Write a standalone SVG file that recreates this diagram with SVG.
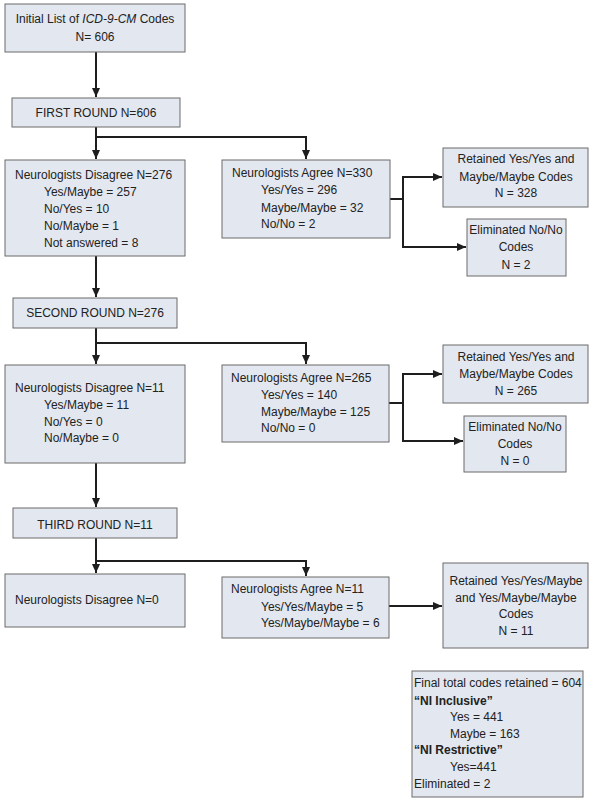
<svg xmlns="http://www.w3.org/2000/svg" width="594" height="800" viewBox="0 0 594 800">
<style>
.box{fill:#e3e7ef;stroke:#6b6b6b;stroke-width:1}
text{font-family:"Liberation Sans",Arial,sans-serif;font-size:12px;fill:#222}
.c{text-anchor:middle}
.b{font-weight:bold}
.con{fill:none;stroke:#1e1e1e;stroke-width:2}
</style>
<defs>
<marker id="ah" markerUnits="userSpaceOnUse" markerWidth="10" markerHeight="9" refX="9" refY="4" orient="auto">
<path d="M0,0 L9,4 L0,8 z" fill="#1e1e1e"/>
</marker>
</defs>
<rect width="594" height="800" fill="#fff"/>
<g id="connectors">
<path class="con" d="M96,52 V97" marker-end="url(#ah)"/>
<path class="con" d="M96,127 V159" marker-end="url(#ah)"/>
<path class="con" d="M96,137 H306 V159" marker-end="url(#ah)"/>
<path class="con" d="M390,199 H403"/>
<path class="con" d="M403,176 V248"/>
<path class="con" d="M402,177 H442" marker-end="url(#ah)"/>
<path class="con" d="M402,247 H466" marker-end="url(#ah)"/>
<path class="con" d="M96,256 V297" marker-end="url(#ah)"/>
<path class="con" d="M96,328 V364" marker-end="url(#ah)"/>
<path class="con" d="M96,343 H306 V364" marker-end="url(#ah)"/>
<path class="con" d="M389,403 H403"/>
<path class="con" d="M403,373 V442"/>
<path class="con" d="M402,374 H442" marker-end="url(#ah)"/>
<path class="con" d="M402,441 H463" marker-end="url(#ah)"/>
<path class="con" d="M96,463 V507" marker-end="url(#ah)"/>
<path class="con" d="M96,538 V573" marker-end="url(#ah)"/>
<path class="con" d="M96,561 H306 V576" marker-end="url(#ah)"/>
<path class="con" d="M389,606 H442" marker-end="url(#ah)"/>
</g>
<g id="initial">
<rect class="box" x="5" y="4" width="180" height="48"/>
<text class="c" x="95" y="23">Initial List of <tspan font-style="italic">ICD-9-CM</tspan> Codes</text>
<text class="c" x="95" y="41">N= 606</text>
</g>
<g id="first-round">
<rect class="box" x="12" y="98" width="168" height="29"/>
<text class="c" x="96" y="117">FIRST ROUND N=606</text>
</g>
<g id="disagree1">
<rect class="box" x="5" y="160" width="180" height="96"/>
<text x="15" y="179">Neurologists Disagree N=276</text>
<text x="44" y="196">Yes/Maybe = 257</text>
<text x="44" y="213">No/Yes = 10</text>
<text x="44" y="230">No/Maybe = 1</text>
<text x="44" y="247">Not answered = 8</text>
</g>
<g id="agree1">
<rect class="box" x="222" y="160" width="168" height="78"/>
<text x="232" y="177">Neurologists Agree N=330</text>
<text x="261" y="194">Yes/Yes = 296</text>
<text x="261" y="212">Maybe/Maybe = 32</text>
<text x="261" y="228">No/No = 2</text>
</g>
<g id="retained1">
<rect class="box" x="443" y="148" width="145" height="59"/>
<text class="c" x="516" y="163">Retained Yes/Yes and</text>
<text class="c" x="516" y="181">Maybe/Maybe Codes</text>
<text class="c" x="516" y="197">N = 328</text>
</g>
<g id="eliminated1">
<rect class="box" x="467" y="219" width="99" height="57"/>
<text class="c" x="516" y="234">Eliminated No/No</text>
<text class="c" x="516" y="251">Codes</text>
<text class="c" x="516" y="269">N = 2</text>
</g>
<g id="second-round">
<rect class="box" x="13" y="298" width="164" height="30"/>
<text class="c" x="95" y="317">SECOND ROUND N=276</text>
</g>
<g id="disagree2">
<rect class="box" x="5" y="365" width="180" height="98"/>
<text x="15" y="392">Neurologists Disagree N=11</text>
<text x="44" y="409">Yes/Maybe = 11</text>
<text x="44" y="426">No/Yes = 0</text>
<text x="44" y="442">No/Maybe = 0</text>
</g>
<g id="agree2">
<rect class="box" x="222" y="365" width="167" height="77"/>
<text x="231" y="382">Neurologists Agree N=265</text>
<text x="261" y="399">Yes/Yes = 140</text>
<text x="261" y="416">Maybe/Maybe = 125</text>
<text x="261" y="432">No/No = 0</text>
</g>
<g id="retained2">
<rect class="box" x="443" y="345" width="145" height="58"/>
<text class="c" x="516" y="361">Retained Yes/Yes and</text>
<text class="c" x="516" y="378">Maybe/Maybe Codes</text>
<text class="c" x="516" y="395">N = 265</text>
</g>
<g id="eliminated2">
<rect class="box" x="464" y="416" width="102" height="56"/>
<text class="c" x="515" y="431">Eliminated No/No</text>
<text class="c" x="515" y="448">Codes</text>
<text class="c" x="515" y="465">N = 0</text>
</g>
<g id="third-round">
<rect class="box" x="13" y="508" width="164" height="30"/>
<text class="c" x="95" y="529">THIRD ROUND N=11</text>
</g>
<g id="disagree3">
<rect class="box" x="5" y="574" width="180" height="53"/>
<text x="15" y="604">Neurologists Disagree N=0</text>
</g>
<g id="agree3">
<rect class="box" x="222" y="577" width="167" height="61"/>
<text x="231" y="593">Neurologists Agree N=11</text>
<text x="261" y="611">Yes/Yes/Maybe = 5</text>
<text x="261" y="627">Yes/Maybe/Maybe = 6</text>
</g>
<g id="retained3">
<rect class="box" x="443" y="563" width="145" height="85"/>
<text class="c" x="516" y="585">Retained Yes/Yes/Maybe</text>
<text class="c" x="516" y="602">and Yes/Maybe/Maybe</text>
<text class="c" x="516" y="618">Codes</text>
<text class="c" x="516" y="635">N = 11</text>
</g>
<g id="final">
<rect class="box" x="412" y="671" width="171" height="126"/>
<text x="414" y="687">Final total codes retained = 604</text>
<text class="b" x="414" y="705">“NI Inclusive”</text>
<text x="450" y="721">Yes = 441</text>
<text x="450" y="738">Maybe = 163</text>
<text class="b" x="414" y="754">“NI Restrictive”</text>
<text x="450" y="771">Yes=441</text>
<text x="414" y="788">Eliminated = 2</text>
</g>
</svg>
